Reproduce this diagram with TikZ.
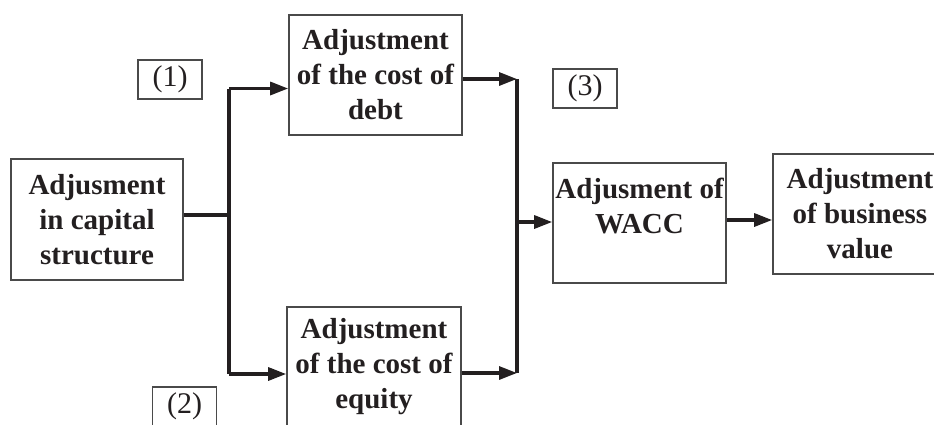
\documentclass[tikz,border=0pt]{standalone}
\usepackage{fontspec}
\setmainfont{Liberation Serif}
\usetikzlibrary{arrows.meta}
\definecolor{ink}{HTML}{231F20}
\definecolor{frame}{HTML}{4A4A4A}
\begin{document}
\begin{tikzpicture}[x=1pt,y=-1pt,
  box/.style={draw=frame,line width=1.7pt,inner sep=0pt,align=center,text=ink,
    font=\fontsize{29}{35}\selectfont\bfseries},
  tag/.style={draw=frame,line width=1.5pt,inner sep=0pt,text=ink,
    minimum width=64pt,minimum height=39pt,font=\fontsize{30}{36}\selectfont},
  link/.style={draw=ink,line width=3.2pt},
  arr/.style={link,-{Triangle[length=18pt,width=13pt]}}]
\useasboundingbox (0,0) rectangle (934,424);
\clip (0,0) rectangle (934,424);
\node[box,minimum width=172pt,minimum height=121pt] (cap) at (97,219.5) {Adjusment\\in capital\\structure};
\node[box,minimum width=173pt,minimum height=120pt] (debt) at (375.5,75) {Adjustment\\of the cost of\\debt};
\node[box,minimum width=174pt,minimum height=120pt] (equity) at (374,367) {Adjustment\\of the cost of\\equity};
\node[box,minimum width=173pt,minimum height=120pt] (wacc) at (639.5,223) {Adjusment of\\WACC\\~};
\node[box,minimum width=174pt,minimum height=120pt] (biz) at (860,214) {Adjustment\\of business\\value};
\node[tag] (l1) at (170,79.5) {(1)};
\node[tag] (l2) at (184.5,406.5) {(2)};
\node[tag] (l3) at (585,88.5) {(3)};
\coordinate (j1) at (229,215);
\coordinate (jt) at (229,88.5);
\coordinate (jb) at (229,374);
\coordinate (mt) at (517,79);
\coordinate (mb) at (517,373);
\coordinate (mm) at (517,222);
\coordinate (wb) at (726,220);
\draw[link] (cap.east|-j1) -- (j1);
\draw[link] (jt) -- (jb);
\draw[arr] (jt) -- (debt.west|-jt);
\draw[arr] (jb) -- (equity.west|-jb);
\draw[arr] (debt.east|-mt) -- (mt);
\draw[arr] (equity.east|-mb) -- (mb);
\draw[link] (mt) -- (mb);
\draw[arr] (mm) -- (wacc.west|-mm);
\draw[arr] (wacc.east|-wb) -- (biz.west|-wb);
\end{tikzpicture}
\end{document}
